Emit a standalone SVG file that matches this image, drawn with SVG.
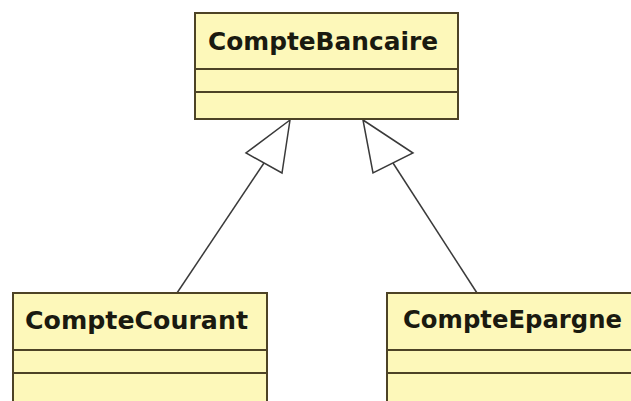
<svg xmlns="http://www.w3.org/2000/svg" width="631" height="401" viewBox="0 0 631 401">
<style>
.box{fill:#fdf8ba;stroke:#4d4326;stroke-width:2}
.div{stroke:#4d4326;stroke-width:2}
.t{font-family:"DejaVu Sans",Verdana,sans-serif;font-weight:bold;font-size:25px;fill:#1a1a10}
.edge{stroke:#3a3a3a;stroke-width:1.5;fill:none}
.head{fill:#ffffff;stroke:#3a3a3a;stroke-width:1.5}
</style>
<rect width="631" height="401" fill="#ffffff"/>
<g id="edges">
<line class="edge" x1="264" y1="163" x2="177" y2="293"/>
<polygon class="head" points="290,120 246,153 282,173"/>
<line class="edge" x1="393" y1="163" x2="477" y2="293"/>
<polygon class="head" points="363,120 413,153 373,173"/>
</g>
<g id="CompteBancaire">
<rect class="box" x="195" y="13" width="263" height="106"/>
<line class="div" x1="195" y1="69" x2="458" y2="69"/>
<line class="div" x1="195" y1="92" x2="458" y2="92"/>
<text class="t" x="208" y="50" textLength="230" lengthAdjust="spacingAndGlyphs">CompteBancaire</text>
</g>
<g id="CompteCourant">
<rect class="box" x="13" y="293" width="254" height="120"/>
<line class="div" x1="13" y1="350" x2="267" y2="350"/>
<line class="div" x1="13" y1="373" x2="267" y2="373"/>
<text class="t" x="25" y="329" textLength="223" lengthAdjust="spacingAndGlyphs">CompteCourant</text>
</g>
<g id="CompteEpargne">
<rect class="box" x="387" y="293" width="254" height="120"/>
<line class="div" x1="387" y1="350" x2="641" y2="350"/>
<line class="div" x1="387" y1="373" x2="641" y2="373"/>
<text class="t" x="403" y="328" textLength="219" lengthAdjust="spacingAndGlyphs">CompteEpargne</text>
</g>
</svg>
